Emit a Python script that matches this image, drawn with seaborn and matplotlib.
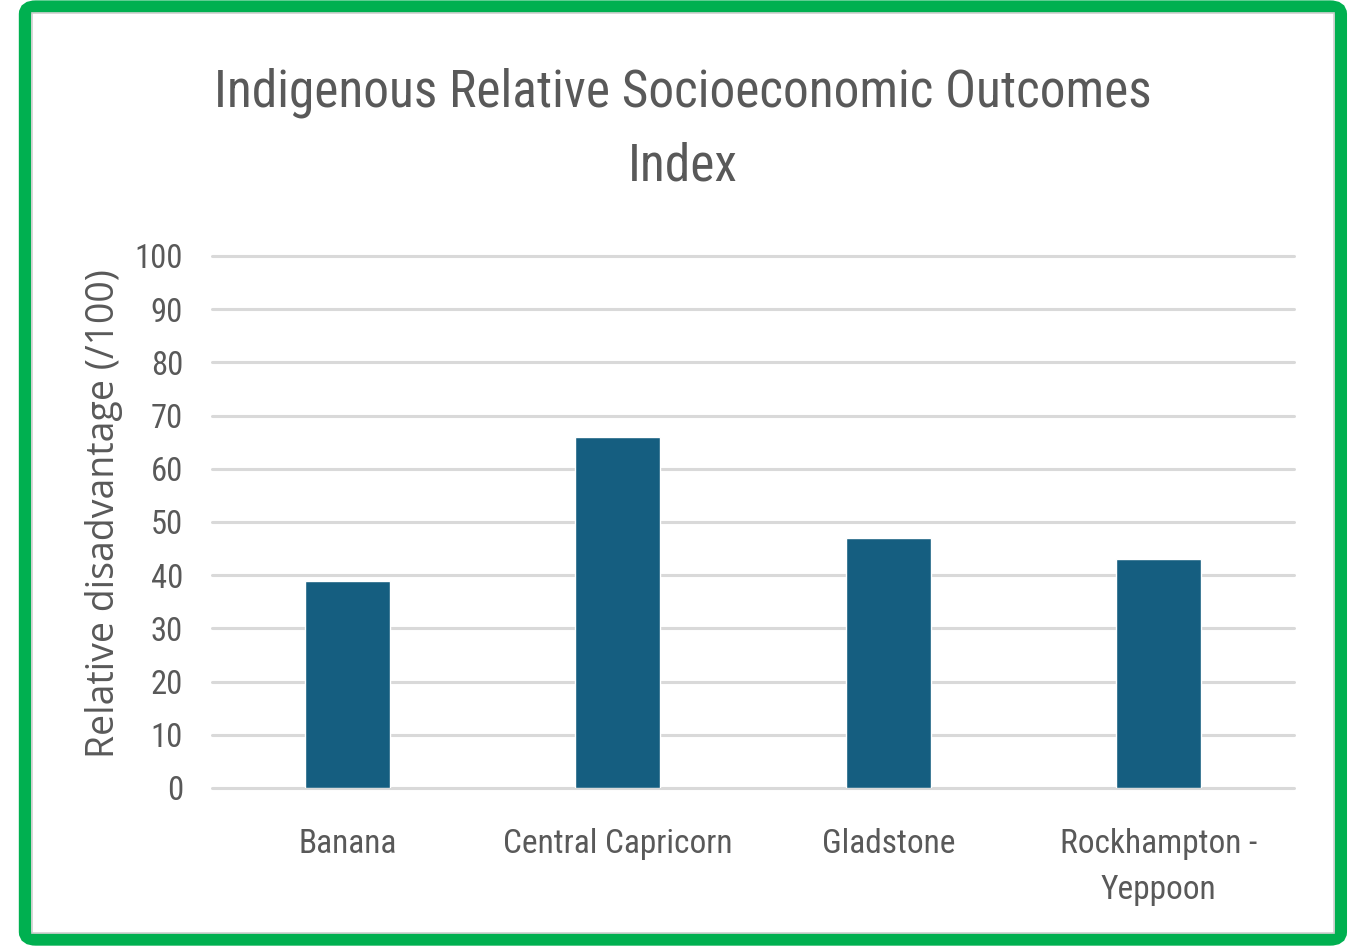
import matplotlib
matplotlib.use("Agg")
import matplotlib.pyplot as plt
from matplotlib.patches import FancyBboxPatch, Rectangle
from matplotlib import font_manager
import seaborn as sns
import pandas as pd

regions = ["Banana", "Central Capricorn", "Gladstone", "Rockhampton -\nYeppoon"]
scores = [39, 66, 47, 43]
y_ticks = [0, 10, 20, 30, 40, 50, 60, 70, 80, 90, 100]

title = "Indigenous Relative Socioeconomic Outcomes\nIndex"
y_label = "Relative disadvantage (/100)"

bar_color = "#155e80"
text_color = "#595959"
grid_color = "#d9d9d9"
frame_green = "#00b050"

installed = {f.name for f in font_manager.fontManager.ttflist}


def pick(candidates, default):
    for name in candidates:
        if name in installed:
            return name
    return default


narrow = pick(["Roboto Condensed", "Fira Sans Condensed", "IBM Plex Sans Condensed",
               "Archivo Narrow", "PT Sans Narrow", "Liberation Sans Narrow"], "Roboto")
label_font = pick(["Open Sans", "Liberation Sans"], "DejaVu Sans")

sns.set_theme(style="white")
plt.rcParams["font.family"] = [narrow, "DejaVu Sans"]

df = pd.DataFrame({"region": regions, "score": scores})

fig = plt.figure(figsize=(13.55, 9.47), dpi=100)
fig.patch.set_facecolor("white")

# outer green frame with a thin grey inner edge
fig.patches.append(FancyBboxPatch((0.0185, 0.008), 0.971, 0.985,
                                  boxstyle="round,pad=0,rounding_size=0.008",
                                  transform=fig.transFigure, facecolor="none",
                                  edgecolor=frame_green, linewidth=9))
fig.patches.append(Rectangle((0.0235, 0.015), 0.961, 0.971,
                             transform=fig.transFigure, facecolor="none",
                             edgecolor="#d0d0d0", linewidth=1.2))

ax = fig.add_axes([0.1565, 0.1679, 0.7985, 0.5618])
sns.barplot(data=df, x="region", y="score", color=bar_color, width=0.314,
            saturation=1, ax=ax)

ax.set_ylim(0, 100)
ax.set_xlim(-0.5, len(regions) - 0.5)
ax.set_yticks(y_ticks)
ax.yaxis.grid(True, color=grid_color, linewidth=2.2)
ax.set_axisbelow(True)
for gl in ax.get_ygridlines():
    gl.set_clip_on(False)
for s in ax.spines.values():
    s.set_visible(False)

ax.tick_params(axis="y", length=0, pad=21, labelsize=23.5, labelcolor=text_color)
ax.tick_params(axis="x", length=0, pad=29, labelsize=24, labelcolor=text_color)
for lbl in ax.get_xticklabels():
    lbl.set_verticalalignment("top")
    lbl.set_linespacing(1.55)

ax.set_xlabel("")
ax.set_ylabel(y_label, fontsize=27, color=text_color, fontfamily=label_font)
ax.yaxis.set_label_coords(-0.082, 0.515)

fig.text(0.504, 0.929, title, ha="center", va="top", fontsize=37,
         color=text_color, linespacing=1.62)

fig.savefig("out.png", dpi=100, facecolor="white")
